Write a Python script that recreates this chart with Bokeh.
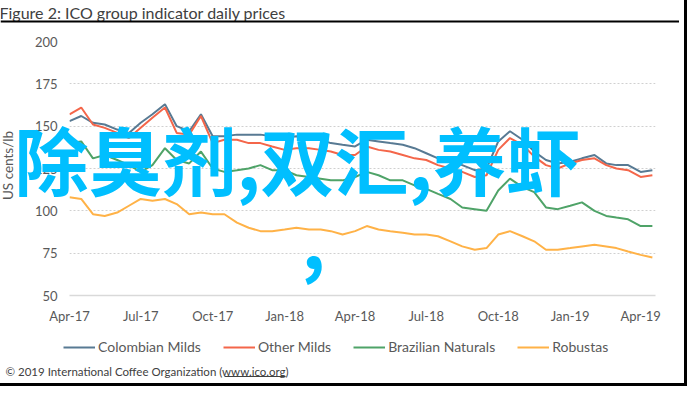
import math
import pandas as pd
from bokeh.plotting import figure
from bokeh.models import (ColumnDataSource, FixedTicker, Legend, LegendItem, Label,
                          BoxAnnotation, Range1d)
from bokeh.embed import file_html
from bokeh.resources import INLINE

# ---------------- data ----------------
dates = ["2017-04-01", "2017-04-16", "2017-05-01", "2017-05-16", "2017-06-01", "2017-06-16",
         "2017-07-01", "2017-07-16", "2017-08-01", "2017-08-16", "2017-09-01", "2017-09-16",
         "2017-10-01", "2017-10-16", "2017-11-01", "2017-11-16", "2017-12-01", "2017-12-16",
         "2018-01-01", "2018-01-16", "2018-02-01", "2018-02-16", "2018-03-01", "2018-03-16",
         "2018-04-01", "2018-04-16", "2018-05-01", "2018-05-16", "2018-06-01", "2018-06-16",
         "2018-07-01", "2018-07-16", "2018-08-01", "2018-08-16", "2018-09-01", "2018-09-16",
         "2018-10-01", "2018-10-16", "2018-11-01", "2018-11-16", "2018-12-01", "2018-12-16",
         "2019-01-01", "2019-01-16", "2019-02-01", "2019-02-16", "2019-03-01", "2019-03-16",
         "2019-04-01", "2019-04-16"]

colombian_milds = [153, 156, 152, 151, 148, 146, 152, 157, 163, 150, 147, 157,
                   144, 144, 145, 145, 145, 144, 143, 144, 143, 142, 140, 139,
                   138, 142, 141, 140, 139, 137, 134, 131, 129, 127, 124, 125,
                   141, 147, 142, 135, 130, 128, 129, 131, 133, 128, 127, 127,
                   123, 124]
other_milds = [157, 161, 151, 149, 146, 143, 149, 155, 161, 146, 145, 156,
               140, 142, 142, 140, 140, 138, 136, 137, 137, 136, 135, 133,
               133, 138, 136, 135, 133, 131, 130, 127, 125, 123, 120, 121,
               136, 143, 139, 132, 127, 125, 128, 130, 131, 127, 125, 124,
               120, 121]
brazilian_naturals = [140, 141, 131, 133, 130, 127, 123, 127, 137, 130, 128, 135,
                      125, 123, 124, 125, 127, 124, 124, 121, 120, 119, 118, 118,
                      120, 123, 121, 118, 118, 115, 113, 110, 107, 102, 101, 100,
                      112, 119, 114, 111, 102, 101, 103, 105, 100, 97, 96, 95,
                      91, 91]
robustas = [108, 107, 98, 97, 99, 103, 107, 106, 107, 104, 98, 99,
            98, 98, 93, 90, 88, 88, 89, 90, 89, 89, 88, 86,
            88, 91, 89, 88, 87, 86, 86, 85, 82, 79, 77, 78,
            86, 88, 85, 82, 77, 77, 78, 79, 80, 79, 78, 76,
            74, 72.5]

series_names = ["Colombian Milds", "Other Milds", "Brazilian Naturals", "Robustas"]
series_colors = ["#587a93", "#f4664a", "#4fa368", "#ffb247"]

tick_dates = ["2017-04-01", "2017-07-01", "2017-10-01", "2018-01-01", "2018-04-01",
              "2018-07-01", "2018-10-01", "2019-01-01", "2019-04-01"]
tick_labels = ["Apr-17", "Jul-17", "Oct-17", "Jan-18", "Apr-18",
               "Jul-18", "Oct-18", "Jan-19", "Apr-19"]
y_ticks = [50, 75, 100, 125, 150, 175, 200]

title_text = "Figure 2: ICO group indicator daily prices"
y_label_text = "US cents/lb"
footer_text = "\u00a9 2019 International Coffee Organization (www.ico.org)"
overlay_line1 = "除臭剂,双汇,养虾"
overlay_line2 = ","

# ---------------- main chart ----------------
W, H = 679, 378
FONT = "Lato"
GREY = "#595959"


def ms(d):
    return int(pd.Timestamp(d).value // 10**6)


p = figure(width=W, height=H, x_axis_type="datetime", output_backend="svg",
           toolbar_location=None, min_border_left=69, min_border_right=24,
           min_border_top=41, min_border_bottom=83,
           x_range=Range1d(ms("2017-04-01"), ms("2019-04-20")),
           y_range=Range1d(50, 200))
p.outline_line_color = None
p.background_fill_color = "white"
p.border_fill_color = "white"
# thin black frame of the picture, drawn just outside the chart box
p.styles = {"box-shadow": "0 -8px 0 0 #ffffff, -0.5px -0.5px 0 5.5px #ffffff, 0 0 0 8px #000000"}

x = pd.to_datetime(dates)
sources = []
for vals, col in zip([colombian_milds, other_milds, brazilian_naturals, robustas],
                     series_colors):
    src = ColumnDataSource(dict(x=x, y=vals))
    sources.append(src)
    p.line("x", "y", source=src, line_color=col, line_width=2)

xa = p.xaxis[0]
xa.ticker = FixedTicker(ticks=[ms(d) for d in tick_dates])
xa.major_label_overrides = {ms(d): lab for d, lab in zip(tick_dates, tick_labels)}
xa.axis_line_color = "#d9d9d9"
xa.axis_line_width = 1.5
xa.major_tick_line_color = None
xa.minor_tick_line_color = None
xa.major_tick_out = 0
xa.major_label_standoff = 12
xa.major_label_text_font = FONT
xa.major_label_text_font_size = "13px"
xa.major_label_text_color = GREY

ya = p.yaxis[0]
ya.ticker = FixedTicker(ticks=y_ticks)
ya.axis_line_color = None
ya.major_tick_line_color = None
ya.minor_tick_line_color = None
ya.major_tick_out = 0
ya.major_label_standoff = 12
ya.major_label_text_font = FONT
ya.major_label_text_font_size = "13px"
ya.major_label_text_color = GREY

p.xgrid.grid_line_color = None
p.ygrid.ticker = FixedTicker(ticks=y_ticks[1:])
p.ygrid.grid_line_color = "#d0d0d0"
p.ygrid.grid_line_dash = "2 2"
p.ygrid.grid_line_width = 1.2

# ---------------- text layer: a second root laid over the chart ----------------
q = figure(width=W, height=H, output_backend="svg", toolbar_location=None,
           x_axis_location=None, y_axis_location=None, min_border=0,
           x_range=Range1d(0, 1), y_range=Range1d(0, 1))
q.outline_line_color = None
q.background_fill_color = None
q.border_fill_color = None
q.grid.visible = False
q.margin = (-H, 0, 0, 0)

leg_renderers = []
for src, col in zip(sources, series_colors):
    r = q.line("x", "y", source=src, line_color=col, line_width=2)
    r.visible = False
    leg_renderers.append(r)

legend = Legend(items=[LegendItem(label=n, renderers=[r])
                       for n, r in zip(series_names, leg_renderers)],
                orientation="horizontal", location=(63, 23),
                glyph_width=32, glyph_height=14, label_height=14, label_standoff=3,
                spacing=22, padding=0, margin=0, border_line_color=None,
                background_fill_alpha=0, label_text_font=FONT,
                label_text_font_size="14px", label_text_color=GREY)
q.add_layout(legend, "center")


def scr_label(**kw):
    return Label(x_units="screen", y_units="screen", **kw)


q.add_layout(scr_label(x=-1, y=H - 12, text=title_text, text_font=FONT,
                       text_font_size="16px", text_color="#404040",
                       text_baseline="alphabetic", text_align="left"))
q.add_layout(scr_label(x=7, y=H - 165, text=y_label_text, angle=math.pi / 2,
                       text_font=FONT, text_font_size="13.5px", text_color=GREY,
                       text_align="center", text_baseline="middle"))
q.add_layout(scr_label(x=5, y=H - 371, text=footer_text, text_font=FONT,
                       text_font_size="11.5px", text_color="#404040",
                       text_align="left", text_baseline="middle"))
# underline of the web address and the rule under the heading
q.add_layout(BoxAnnotation(left=224, right=285, bottom=1.5, top=2.5, left_units="screen",
                           right_units="screen", bottom_units="screen", top_units="screen",
                           fill_color="#404040", fill_alpha=1, line_color=None))
q.add_layout(BoxAnnotation(left=0, right=W, bottom=H - 22, top=H - 20, left_units="screen",
                           right_units="screen", bottom_units="screen", top_units="screen",
                           fill_color="#000000", fill_alpha=1, line_color=None))

OV = dict(text_font="Noto Sans CJK SC", text_font_size="74px", text_font_style="bold",
          text_color="#00BFFF", text_align="left", text_baseline="middle")
q.add_layout(scr_label(x=14, y=H - 157, text=overlay_line1, **OV))
q.add_layout(scr_label(x=301, y=H - 241, text=overlay_line2, **OV))

open("out.html", "w").write(file_html([p, q], INLINE))
